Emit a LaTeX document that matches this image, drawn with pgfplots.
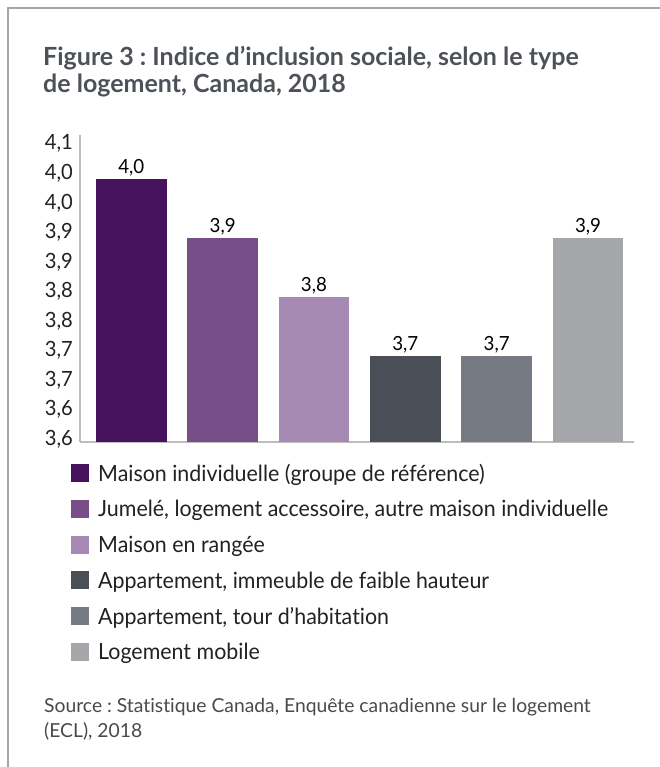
\documentclass[border=0pt]{standalone}
\usepackage{fontspec}
\setmainfont{Lato}[FakeStretch=0.96, Ligatures=NoCommon]
\newfontfamily\wfont{Lato}[Ligatures=NoCommon]
\usepackage{pgfplots}
\pgfplotsset{compat=1.18}
\definecolor{c1}{HTML}{46125E}
\definecolor{c2}{HTML}{774E87}
\definecolor{c3}{HTML}{A68AB3}
\definecolor{c4}{HTML}{4A4E57}
\definecolor{c5}{HTML}{767A82}
\definecolor{c6}{HTML}{A5A6AA}
\definecolor{titlec}{HTML}{4D5158}
\definecolor{framec}{HTML}{A6A6A6}
\definecolor{axc}{HTML}{BDBDBD}
\definecolor{txtc}{HTML}{222222}
\definecolor{srcc}{HTML}{4A4A4A}
\begin{document}
\frenchspacing
\begin{tikzpicture}[x=1pt,y=1pt]
\useasboundingbox (0,0) rectangle (660,-767);
\fill[white] (0,0) rectangle (660,-767);
\draw[framec, line width=1.5pt] (8,-767) -- (8,-8) -- (660,-8);
\node[anchor=base west, inner sep=0pt, text=titlec, font=\wfont\bfseries\fontsize{25}{28}\selectfont] at (43,-66) {Figure 3 : Indice d’inclusion sociale, selon le type};
\node[anchor=base west, inner sep=0pt, text=titlec, font=\wfont\bfseries\fontsize{25}{28}\selectfont] at (43,-93) {de logement, Canada, 2018};
\node[anchor=base west, inner sep=0pt, text=srcc, font=\wfont\fontsize{19.3}{24}\selectfont] at (44,-712) {Source : Statistique Canada, Enquête canadienne sur le logement};
\node[anchor=base west, inner sep=0pt, text=srcc, font=\wfont\fontsize{19.3}{24}\selectfont] at (44,-737) {(ECL), 2018};
\begin{axis}[
  at={(80pt,-442pt)}, anchor=south west,
  scale only axis, width=554.3pt, height=307pt,
  xmin=-0.5616, xmax=5.507, ymin=3.545, ymax=4.065,
  axis x line*=bottom, axis y line*=left,
  axis line style={-, axc, line width=1.6pt},
  xtick=\empty,
  ytick={3.55,3.60,3.65,3.70,3.75,3.80,3.85,3.90,3.95,4.00,4.05},
  yticklabels={{3,6},{3,6},{3,7},{3,7},{3,8},{3,8},{3,9},{3,9},{4,0},{4,0},{4,1}},
  major tick length=0pt,
  yticklabel style={font=\fontsize{21}{24}\selectfont, text=txtc, inner sep=0pt, xshift=-7pt},
  ybar, bar width=70.7pt, bar shift=0pt,
  nodes near coords,
  nodes near coords style={font=\fontsize{19.5}{22}\selectfont, text=black, inner sep=3pt},
  /pgf/number format/.cd, use comma, fixed, fixed zerofill, precision=1, assume math mode=true,
  /pgfplots/.cd,
  sq/.style={draw=none, fill=#1, legend image code/.code={\fill[#1] (0pt,-6.5pt) rectangle (18pt,11.5pt);}},
  legend style={at={(-0.01624,-0.07166)}, anchor=north west, draw=none, fill=none,
    inner sep=0pt, row sep=13.7pt, column sep=9pt,
    font=\fontsize{22.3}{26}\selectfont, text=txtc,
    nodes={inner sep=0pt, text height=16pt, text depth=5pt}},
  legend cell align=left,
]
\addplot[sq=c1] coordinates {(0,3.99)};
\addplot[sq=c2] coordinates {(1,3.89)};
\addplot[sq=c3] coordinates {(2,3.79)};
\addplot[sq=c4] coordinates {(3,3.69)};
\addplot[sq=c5] coordinates {(4,3.69)};
\addplot[sq=c6] coordinates {(5,3.89)};
\legend{Maison individuelle (groupe de référence),
Jumelé{,} logement accessoire{,} autre maison individuelle,
Maison en rangée,
Appartement{,} immeuble de faible hauteur,
Appartement{,} tour d’habitation,
Logement mobile}
\end{axis}
\end{tikzpicture}
\end{document}
